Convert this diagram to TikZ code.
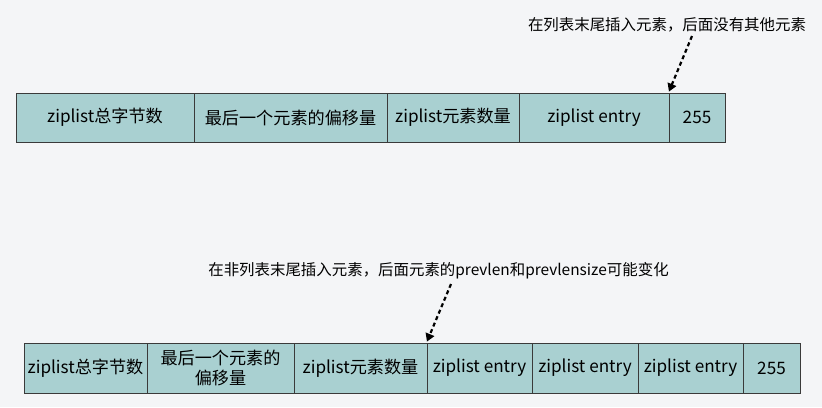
\documentclass[tikz,border=0pt]{standalone}
\usepackage{fontspec}
\setmainfont{Noto Sans CJK SC}
\usetikzlibrary{arrows.meta}
\definecolor{bg}{HTML}{F4F5F7}
\definecolor{cellfill}{HTML}{A9D0D1}
\definecolor{edge}{HTML}{3A3A3A}
\tikzset{
  cell/.style={draw=edge, fill=cellfill, line width=0.9bp, inner sep=0pt,
    minimum height=#1, align=center, font=\fontsize{17.2}{20.5}\selectfont},
  cell/.default=49bp,
  note/.style={inner sep=0pt, font=\fontsize{15.5}{18}\selectfont},
  pointer/.style={line width=2.2bp, dash pattern=on 4bp off 3bp,
    -{Triangle[width=9bp,length=8bp]}, shorten >=1bp}
}
\begin{document}
\begin{tikzpicture}[x=1bp,y=-1bp]
  \fill[bg] (0,0) rectangle (822,407);
  \useasboundingbox (0,0) rectangle (822,407);

  % upper list: appending at the tail
  \node[cell, minimum width=178bp] (a1) at (105,117.5) {ziplist总字节数};
  \node[cell, minimum width=193bp] (a2) at (290.5,117.5) {最后一个元素的偏移量};
  \node[cell, minimum width=132bp] (a3) at (453,117.5) {ziplist元素数量};
  \node[cell, minimum width=150bp] (a4) at (594,117.5) {ziplist entry};
  \node[cell, minimum width=56bp] (a5) at (697,117.5) {255};

  \node[note] (n1) at (667,25) {在列表末尾插入元素，后面没有其他元素};
  \coordinate (p1) at (692,36);
  \draw[pointer] (p1) -- (a5.north west);

  % lower list: inserting in the middle
  \node[cell=50bp, minimum width=123bp] (b1) at (85.5,368) {ziplist总字节数};
  \node[cell=50bp, minimum width=147bp] (b2) at (220.5,368) {最后一个元素的\\偏移量};
  \node[cell=50bp, minimum width=133bp] (b3) at (360.5,368) {ziplist元素数量};
  \node[cell=50bp, minimum width=105bp] (b4) at (479.5,368) {ziplist entry};
  \node[cell=50bp, minimum width=106bp] (b5) at (585,368) {ziplist entry};
  \node[cell=50bp, minimum width=105bp] (b6) at (690.5,368) {ziplist entry};
  \node[cell=50bp, minimum width=57bp] (b7) at (771.5,368) {255};

  \node[note] (n2) at (438.5,271) {在非列表末尾插入元素，后面元素的prevlen和prevlensize可能变化};
  \coordinate (p2) at (451,284);
  \draw[pointer] (p2) -- (b4.north west);
\end{tikzpicture}
\end{document}
